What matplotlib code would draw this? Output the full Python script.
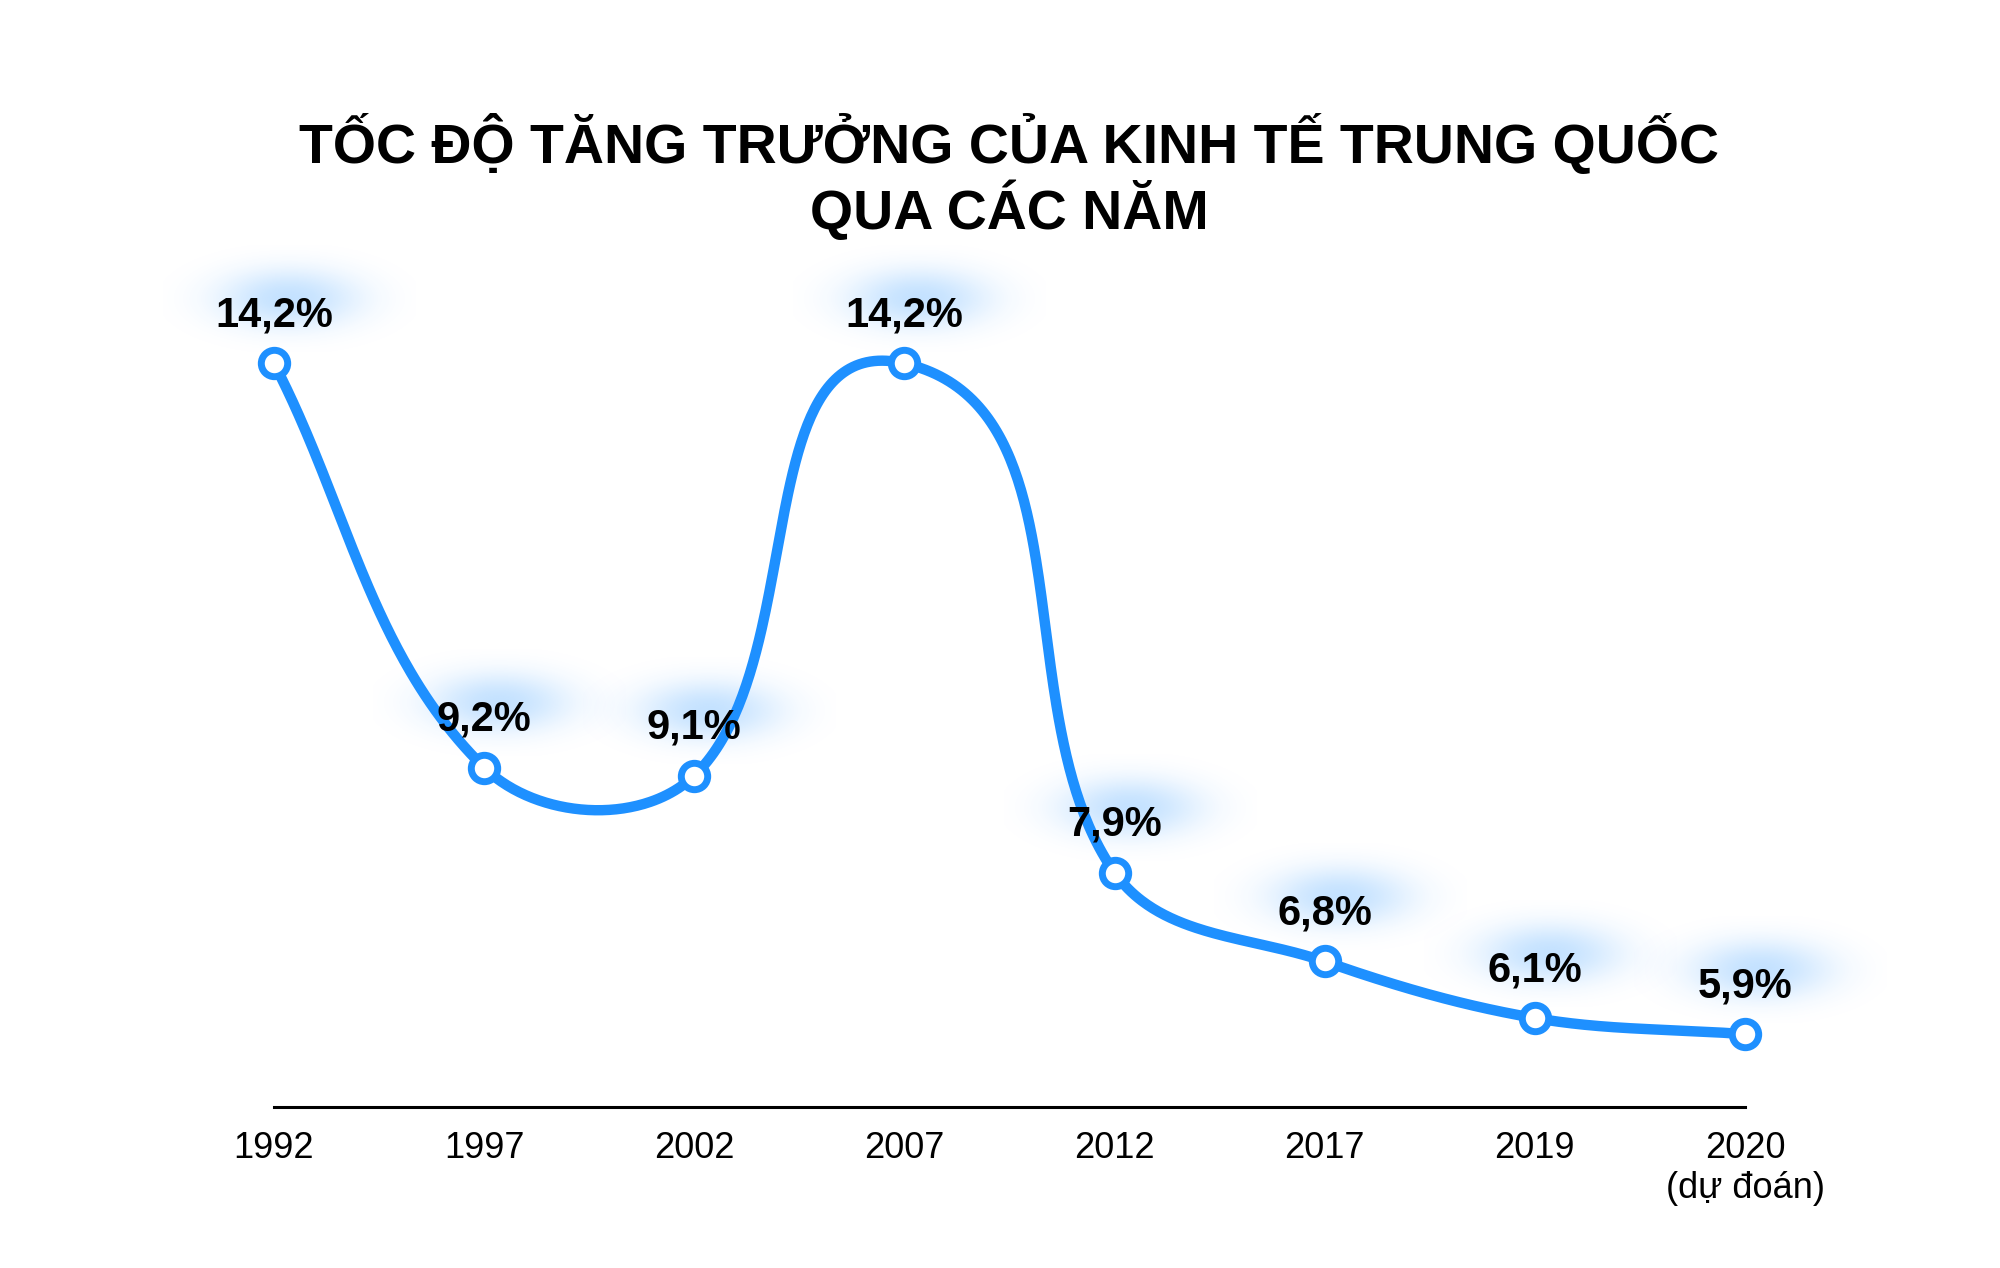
import numpy as np
import matplotlib
matplotlib.use('Agg')
import matplotlib.pyplot as plt

years = ['1992', '1997', '2002', '2007', '2012', '2017', '2019', '2020\n(dự đoán)']
growth = [14.2, 9.2, 9.1, 14.2, 7.9, 6.8, 6.1, 5.9]
labels = ['14,2%', '9,2%', '9,1%', '14,2%', '7,9%', '6,8%', '6,1%', '5,9%']

blue = '#1E90FF'
plt.rcParams['font.family'] = ['Liberation Sans', 'DejaVu Sans']

fig = plt.figure(figsize=(20, 12.68), dpi=100)
ax = fig.add_axes([0.137, 0.127, 0.7355, 0.5864])

x = np.arange(len(growth))
y = np.array(growth)

# smooth bezier through the points, done in pixel space:
# handle direction = next - prev, handle length = tension * adjacent segment length
tension = 0.35
sx, sy = 210.14, 80.8
P = np.column_stack([x * sx, y * sy])
n = len(P)
cp_prev, cp_next = P.copy(), P.copy()
for i in range(n):
    prev = P[i - 1] if i > 0 else P[i]
    nxt = P[i + 1] if i < n - 1 else P[i]
    v = nxt - prev
    u = v / np.linalg.norm(v)
    cp_prev[i] = P[i] - tension * np.linalg.norm(P[i] - prev) * u
    cp_next[i] = P[i] + tension * np.linalg.norm(nxt - P[i]) * u
t = np.linspace(0, 1, 100)[:, None]
pts = [P[:1]]
for i in range(n - 1):
    p1, c1, c2, p2 = P[i], cp_next[i], cp_prev[i + 1], P[i + 1]
    seg = ((1 - t)**3) * p1 + 3 * ((1 - t)**2) * t * c1 + 3 * (1 - t) * t**2 * c2 + t**3 * p2
    pts.append(seg[1:])
curve = np.vstack(pts)
xs, ys = curve[:, 0] / sx, curve[:, 1] / sy

# soft glow behind the labels
gx, gy = np.meshgrid(np.linspace(-1, 1, 200), np.linspace(-1, 1, 100))
r = np.sqrt(gx**2 + gy**2)
alpha = 0.26 * np.exp(-(r / 0.55)**2.2)
glow = np.zeros((100, 200, 4))
glow[..., 0] = 30 / 255
glow[..., 1] = 144 / 255
glow[..., 2] = 1.0
glow[..., 3] = alpha
for xi, yi in zip(x, y):
    cx, cy = xi + 0.072, yi + 0.8
    ax.imshow(glow, extent=[cx - 0.6, cx + 0.6, cy - 0.66, cy + 0.66],
              aspect='auto', zorder=1, clip_on=False, interpolation='bilinear')

ax.plot(xs, ys, color=blue, lw=7.5, solid_capstyle='round', zorder=3, clip_on=False)
ax.plot(x, y, 'o', ms=19, mfc='white', mec=blue, mew=5, zorder=4, clip_on=False)

for xi, yi, lab in zip(x, y, labels):
    ax.annotate(lab, (xi, yi), xytext=(0, 20), textcoords='offset points',
                ha='center', va='bottom', fontsize=30, fontweight='bold', zorder=5)

ax.set_xlim(0, 7)
ax.set_ylim(5, 14.2)
ax.set_xticks(x)
ax.set_xticklabels(years, fontsize=26, linespacing=1.2)
ax.tick_params(axis='x', length=0, pad=17)
ax.set_yticks([])
for s in ['top', 'left', 'right']:
    ax.spines[s].set_visible(False)
ax.spines['bottom'].set_linewidth(2.2)
ax.patch.set_alpha(0)

fig.text(0.5045, 0.86, 'TỐC ĐỘ TĂNG TRƯỞNG CỦA KINH TẾ TRUNG QUỐC\nQUA CÁC NĂM',
         ha='center', va='center', fontsize=40, fontweight='bold', linespacing=1.1)

fig.savefig('out.png', dpi=100, facecolor='white')
